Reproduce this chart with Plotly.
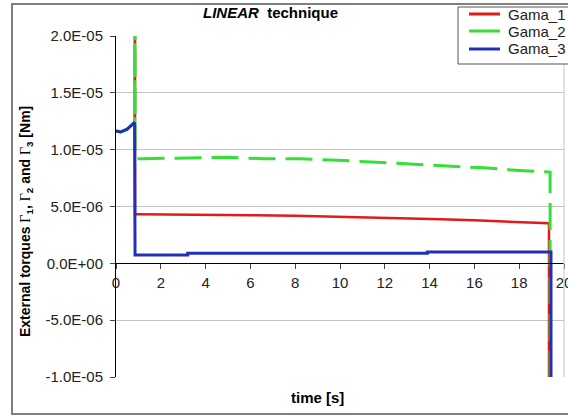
import plotly.graph_objects as go

# ---------------- data ----------------
t_gama1 = [0.0, 0.2, 0.5, 0.75, 0.83, 0.85, 0.85, 1.0, 2.0, 4.0, 6.0, 8.0, 10.0, 12.0, 14.5, 16.0, 18.0, 19.33, 19.33]
gama1 = [1.164e-05, 1.155e-05, 1.18e-05, 1.22e-05, 1.24e-05, 2.6e-05, 4.32e-06, 4.32e-06, 4.31e-06, 4.28e-06, 4.24e-06, 4.18e-06, 4.10e-06, 4.00e-06, 3.87e-06, 3.78e-06, 3.64e-06, 3.52e-06, -1.5e-05]

t_gama2 = [0.0, 0.2, 0.5, 0.75, 0.83, 0.85, 0.85, 1.16, 3.3, 5.0, 6.6, 8.2, 9.9, 13.1, 14.8, 16.4, 18.0, 19.3, 19.38, 19.38]
gama2 = [1.164e-05, 1.155e-05, 1.18e-05, 1.22e-05, 1.24e-05, 2.6e-05, 9.2e-06, 9.2e-06, 9.29e-06, 9.33e-06, 9.2e-06, 9.2e-06, 9.07e-06, 8.76e-06, 8.58e-06, 8.40e-06, 8.17e-06, 8.03e-06, 8.03e-06, -1.5e-05]

t_gama3 = [0.0, 0.2, 0.5, 0.75, 0.83, 0.85, 3.2, 3.2, 13.9, 13.9, 19.42, 19.42]
gama3 = [1.164e-05, 1.155e-05, 1.18e-05, 1.22e-05, 1.24e-05, 7.3e-07, 7.3e-07, 8.8e-07, 8.8e-07, 1.0e-06, 1.0e-06, -1.5e-05]

series_names = ["Gama_1", "Gama_2", "Gama_3"]
series_colors = ["#e01b1b", "#33e033", "#2230b8"]

y_tickvals = [2.0e-05, 1.5e-05, 1.0e-05, 5.0e-06, 0.0, -5.0e-06, -1.0e-05]
y_ticktext = ["2.0E-05", "1.5E-05", "1.0E-05", "5.0E-06", "0.0E+00", "-5.0E-06", "-1.0E-05"]
x_tickvals = [0, 2, 4, 6, 8, 10, 12, 14, 16, 18, 20]

# ---------------- layout geometry ----------------
W, H = 568, 416
L, R, T, B = 116, 4, 36, 39
PW, PH = W - L - R, H - T - B

def xp(px):
    return (px - L) / PW

def yp(py):
    return (H - B - py) / PH

FONT = "Liberation Sans, Arial, sans-serif"

fig = go.Figure()
fig.add_trace(go.Scatter(x=t_gama1, y=gama1, name=series_names[0], mode="lines",
                         line=dict(color=series_colors[0], width=2.5)))
fig.add_trace(go.Scatter(x=t_gama2, y=gama2, name=series_names[1], mode="lines",
                         line=dict(color=series_colors[1], width=3, dash="27px,10px")))
fig.add_trace(go.Scatter(x=t_gama3, y=gama3, name=series_names[2], mode="lines",
                         line=dict(color=series_colors[2], width=3)))

zero_pos = (0 - (-1.0e-05)) / (2.0e-05 - (-1.0e-05))

shapes = [
    dict(type="line", xref="paper", yref="paper", x0=1, x1=1, y0=0, y1=1,
         line=dict(color="#c4c4c4", width=1)),
    dict(type="rect", xref="paper", yref="paper",
         x0=xp(12), x1=xp(572), y0=yp(414), y1=yp(4),
         line=dict(color="#808080", width=2), layer="below"),
    # legend box
    dict(type="rect", xref="paper", yref="paper",
         x0=xp(458), x1=xp(580), y0=yp(64), y1=yp(7),
         line=dict(color="#555555", width=1), fillcolor="white", layer="above"),
]

annotations = [
    dict(text="<b><i>LINEAR</i>  technique</b>", xref="paper", yref="paper",
         x=xp(270), y=yp(12), showarrow=False, xanchor="center", yanchor="middle",
         font=dict(size=15, color="black")),
    dict(text="<b>time [s]</b>", xref="paper", yref="paper",
         x=xp(317), y=yp(397), showarrow=False, xanchor="center", yanchor="middle",
         font=dict(size=15, color="black")),
    dict(text=("<b>External torques "
               "<span style='font-family:Liberation Serif, Times New Roman, serif;font-weight:normal'>Γ</span><sub>1</sub>, "
               "<span style='font-family:Liberation Serif, Times New Roman, serif;font-weight:normal'>Γ</span><sub>2</sub> and "
               "<span style='font-family:Liberation Serif, Times New Roman, serif;font-weight:normal'>Γ</span><sub>3</sub> [Nm]</b>"),
         xref="paper", yref="paper", x=xp(26), y=yp(222), textangle=-90,
         showarrow=False, xanchor="center", yanchor="middle",
         font=dict(size=14, color="black")),
]

# legend entries
legend_rows = [14, 31, 49]
for name, color, row in zip(series_names, series_colors, legend_rows):
    shapes.append(dict(type="line", xref="paper", yref="paper",
                       x0=xp(469), x1=xp(500), y0=yp(row), y1=yp(row),
                       line=dict(color=color, width=3), layer="above"))
    annotations.append(dict(text=name, xref="paper", yref="paper",
                            x=xp(506), y=yp(row), showarrow=False,
                            xanchor="left", yanchor="middle",
                            font=dict(size=15, color="#222222")))

fig.update_layout(
    width=W, height=H,
    margin=dict(l=L, r=R, t=T, b=B, autoexpand=False),
    paper_bgcolor="white", plot_bgcolor="white",
    font=dict(family=FONT, size=15, color="#222222"),
    showlegend=False,
    xaxis=dict(range=[0, 20], tickvals=x_tickvals, showgrid=False,
               zeroline=False, showline=True, linecolor="black", linewidth=1,
               ticks="outside", ticklen=5, tickcolor="#444444",
               anchor="free", position=zero_pos, ticklabelstandoff=1,
               ticklabeloverflow="allow",
               tickfont=dict(size=15, color="#222222")),
    yaxis=dict(range=[-1.0e-05, 2.0e-05], tickvals=y_tickvals, ticktext=y_ticktext,
               showgrid=True, gridcolor="#c4c4c4", gridwidth=1,
               zeroline=False, showline=True, linecolor="black", linewidth=1,
               ticks="outside", ticklen=5, tickcolor="#444444",
               ticklabelstandoff=4, tickfont=dict(size=15, color="#222222")),
    shapes=shapes,
    annotations=annotations,
)

fig.write_html("out.html")
